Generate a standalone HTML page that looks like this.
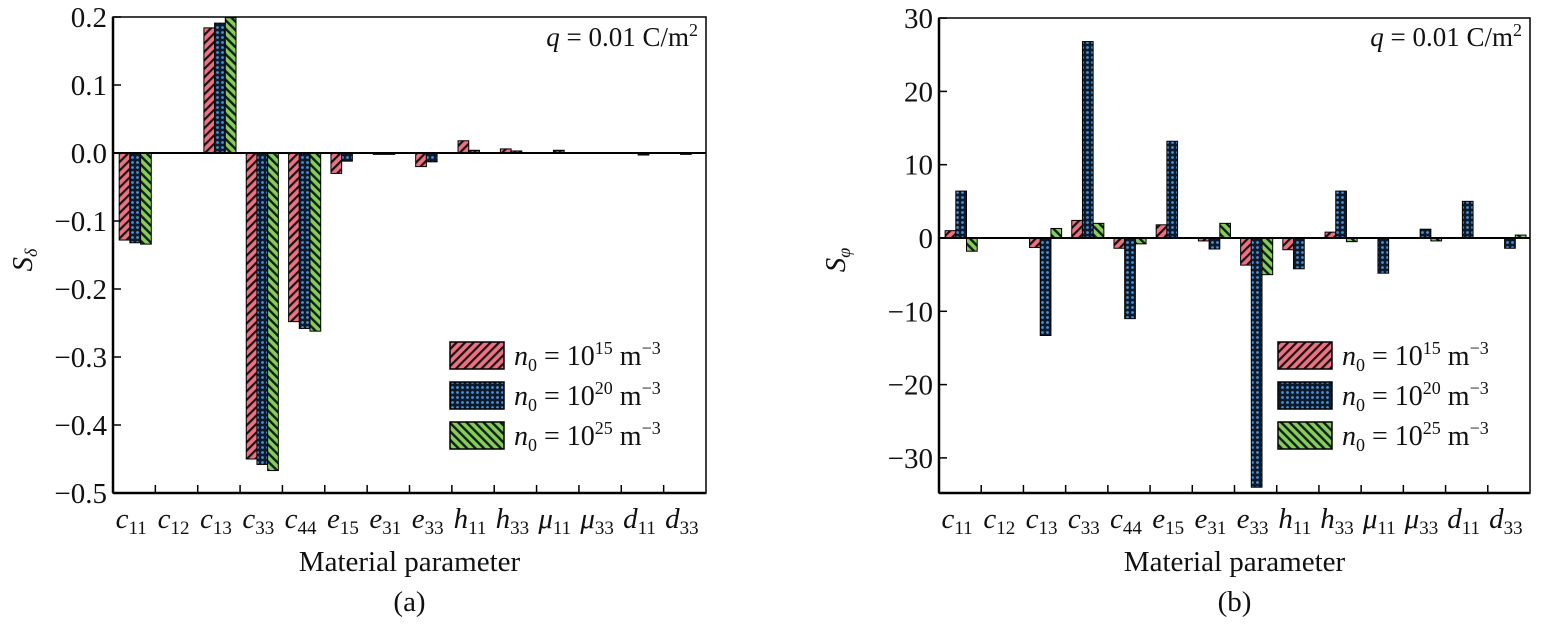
<!DOCTYPE html>
<html><head><meta charset="utf-8"><style>
body{margin:0;background:#fff;}
svg text{font-family:"Liberation Serif","DejaVu Serif",serif !important;fill:#111;}
</style></head><body>
<svg id="s" width="1542" height="630" xmlns="http://www.w3.org/2000/svg" font-family="Liberation Serif, serif">
<defs>
<pattern id="pr" width="6" height="6" patternUnits="userSpaceOnUse" patternTransform="rotate(45)">
<rect width="6" height="6" fill="#ec7283"/><rect width="2.2" height="6" fill="#1a1010"/></pattern>
<pattern id="pb" width="5" height="5" patternUnits="userSpaceOnUse">
<rect width="5" height="5" fill="#0d1a2a"/><circle cx="2.5" cy="2.5" r="1.4" fill="#4a90d8"/></pattern>
<pattern id="pg" width="6" height="6" patternUnits="userSpaceOnUse" patternTransform="rotate(-45)">
<rect width="6" height="6" fill="#86cc5c"/><rect width="2.4" height="6" fill="#102010"/></pattern>
</defs>
<g id="g" font-family="Liberation Serif, serif"></g>
</svg>
<script>
const g=document.getElementById('g');let h='';
const F='font-family="Liberation Serif, serif"';
const cats=[['c','11'],['c','12'],['c','13'],['c','33'],['c','44'],['e','15'],['e','31'],['e','33'],['h','11'],['h','33'],['μ','11'],['μ','33'],['d','11'],['d','33']];
const pats=['pr','pb','pg'];
function panel(L,R,T,B,zero,scale,vals,ticks,tfmt,ylab,sub,cx,leg,lx){
  const w=(R-L)/14;
  vals.forEach((v,i)=>{const c=L+w*(i+0.5);v.forEach((x,j)=>{if(!x)return;const bx=c-15+j*10.7;const y1=zero-x*scale;const y=Math.min(y1,zero),hh=Math.abs(y1-zero);
  h+=`<rect x="${bx}" y="${y}" width="10.7" height="${hh}" fill="url(#${pats[j]})" stroke="#000" stroke-width="1"/>`;});});
  h+=`<line x1="${L}" x2="${R}" y1="${zero}" y2="${zero}" stroke="#000" stroke-width="2"/>`;
  h+=`<rect x="${L}" y="${T}" width="${R-L}" height="${B-T}" fill="none" stroke="#000" stroke-width="1.5"/>`;
  h+=`<line x1="${L}" x2="${L}" y1="${T}" y2="${B}" stroke="#000" stroke-width="2.5"/><line x1="${L}" x2="${R}" y1="${B}" y2="${B}" stroke="#000" stroke-width="2.5"/>`;
  ticks.forEach(t=>{const y=zero-t*scale;h+=`<line x1="${L}" x2="${L+8}" y1="${y}" y2="${y}" stroke="#000" stroke-width="1.5"/><text ${F} x="${L-6}" y="${y+10}" font-size="29" text-anchor="end">${tfmt(t)}</text>`;});
  for(let i=1;i<14;i++){const x=L+w*i;h+=`<line x1="${x}" x2="${x}" y1="${B}" y2="${B-8}" stroke="#000" stroke-width="1.5"/>`;}
  cats.forEach((c,i)=>{const x=L+w*(i+0.5);h+=`<text ${F} x="${x-3}" y="${B+35}" font-size="29" font-style="italic" text-anchor="middle">${c[0]}<tspan font-size="19" font-style="normal" dy="6">${c[1]}</tspan></text>`;});
  h+=`<text ${F} x="${(L+R)/2}" y="${B+78}" font-size="29" text-anchor="middle">Material parameter</text>`;
  h+=`<text ${F} x="${(L+R)/2}" y="${B+118}" font-size="29" text-anchor="middle">${sub}</text>`;
  h+=`<text ${F} transform="translate(${cx},260) rotate(-90)" font-size="29" font-style="italic" text-anchor="middle">S<tspan font-size="18" dy="5">${ylab}</tspan></text>`;
  h+=`<text ${F} x="${R-8}" y="46" font-size="27" text-anchor="end"><tspan font-style="italic">q</tspan> = 0.01 C/m<tspan font-size="18" dy="-10">2</tspan></text>`;
  ['15','20','25'].forEach((e,j)=>{const y=leg+j*40;h+=`<rect x="${lx}" y="${y-13}" width="54" height="27" fill="url(#${pats[j]})" stroke="#000" stroke-width="1.5"/>`;
  h+=`<text ${F} x="${lx+64}" y="${y+10}" font-size="28"><tspan font-style="italic">n</tspan><tspan font-size="18" dy="6">0</tspan><tspan dy="-6"> = 10</tspan><tspan font-size="18" dy="-11">${e}</tspan><tspan dy="11"> m</tspan><tspan font-size="18" dy="-11">−3</tspan></text>`;});
}
const fm=t=>(t<0?'−':'')+Math.abs(t).toFixed(1);
panel(113,706,17,493,153,680,
[[-.128,-.132,-.134],[0,0,0],[.184,.191,.199],[-.45,-.458,-.467],[-.248,-.258,-.262],[-.03,-.012,0],[-.002,-.002,0],[-.02,-.013,0],[.018,.004,0],[.006,.003,0],[0,.004,0],[0,0,0],[0,-.003,0],[0,-.002,0]],
[.2,.1,0,-.1,-.2,-.3,-.4,-.5],fm,'δ','(a)',32,355,450);
panel(939,1530,18,493,238,7.33,
[[1,6.4,-1.8],[0,0,0],[-1.3,-13.3,1.3],[2.4,26.8,2],[-1.4,-11,-.8],[1.8,13.2,0],[-.4,-1.5,2],[-3.7,-34,-5],[-1.6,-4.2,0],[.8,6.4,-.5],[0,-4.8,0],[0,1.2,-.4],[0,5,0],[0,-1.4,.4]],
[30,20,10,0,-10,-20,-30],t=>(t<0?'−':'')+Math.abs(t),'φ','(b)',845,355,1278);
g.innerHTML=h;
</script>
</body></html>
